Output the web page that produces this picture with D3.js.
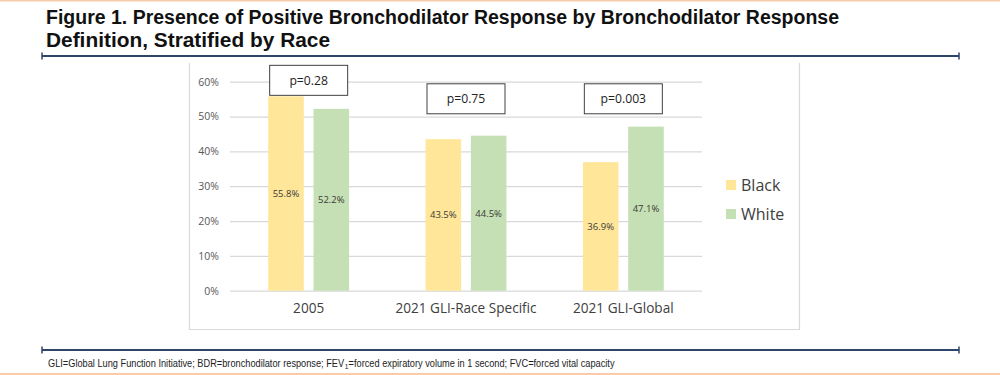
<!DOCTYPE html>
<html>
<head>
<meta charset="utf-8">
<script src="https://cdn.jsdelivr.net/npm/d3@7"></script>
<style>
  html, body { margin: 0; padding: 0; background: #fff; }
  svg { display: block; }
</style>
</head>
<body>
<div id="chart"></div>
<script>
// data
const categories = ["2005", "2021 GLI-Race Specific", "2021 GLI-Global"];
const series = ["Black", "White"];
const blackValues = [55.8, 43.5, 36.9];
const whiteValues = [52.2, 44.5, 47.1];
const pValues = ["p=0.28", "p=0.75", "p=0.003"];
const yTicks = [0, 10, 20, 30, 40, 50, 60];
const colors = { Black: "#ffe699", White: "#c5e0b4" };

const W = 1000, H = 375;
const chartFont = "'Open Sans', 'Noto Sans', sans-serif";
const pageFont = "'Liberation Sans', Arial, sans-serif";

const svg = d3.select("#chart").append("svg")
    .attr("width", W)
    .attr("height", H);

// page decorations (orange borders, navy rules)
svg.append("rect").attr("x", 0).attr("y", 0).attr("width", W).attr("height", 1.5).attr("fill", "#f8cbad");
svg.append("rect").attr("x", 0).attr("y", H - 2).attr("width", W).attr("height", 2).attr("fill", "#f8cbad");

function rule(yPos) {
    const g = svg.append("g").attr("stroke", "#2e4468");
    g.append("line").attr("x1", 42).attr("x2", 959).attr("y1", yPos).attr("y2", yPos).attr("stroke-width", 2);
    g.append("line").attr("x1", 42).attr("x2", 42).attr("y1", yPos - 3.5).attr("y2", yPos + 3.5).attr("stroke-width", 1.5);
    g.append("line").attr("x1", 959).attr("x2", 959).attr("y1", yPos - 3.5).attr("y2", yPos + 3.5).attr("stroke-width", 1.5);
}
rule(56);
rule(350);

// title
const title = svg.append("g")
    .style("font-family", pageFont)
    .style("font-weight", "bold")
    .style("font-size", "20px")
    .attr("fill", "#111");
title.append("text").attr("x", 46).attr("y", 24)
    .attr("textLength", 793).attr("lengthAdjust", "spacingAndGlyphs")
    .text("Figure 1. Presence of Positive Bronchodilator Response by Bronchodilator Response");
title.append("text").attr("x", 46).attr("y", 46.5)
    .attr("textLength", 284).attr("lengthAdjust", "spacingAndGlyphs")
    .text("Definition, Stratified by Race");

// footnote: pieces laid out one after another, then squeezed to the reference width
const footG = svg.append("g").attr("transform", "translate(48,366.5)");
const footInner = footG.append("g")
    .style("font-family", pageFont)
    .attr("fill", "#222");
const footParts = [
    { t: "GLI=Global Lung Function Initiative; BDR=bronchodilator response; FEV", size: 10.5, dy: 0 },
    { t: "1", size: 7.5, dy: 2 },
    { t: "=forced expiratory volume in 1 second; FVC=forced vital capacity", size: 10.5, dy: 0 }
];
let fx = 0;
footParts.forEach(p => {
    const node = footInner.append("text")
        .attr("x", fx).attr("y", p.dy)
        .style("font-size", p.size + "px")
        .text(p.t);
    fx += node.node().getComputedTextLength() + 0.3;
});
footInner.attr("transform", `scale(${567 / fx},1)`);

// chart frame (left, right, bottom)
svg.append("path")
    .attr("d", "M189.5,63V329.5H799.5V63")
    .attr("stroke", "#d9d9d9").attr("stroke-width", 1.2).attr("fill", "none");

// scales
const x0 = d3.scaleBand().domain(categories).range([230, 702]);
const bw = x0.bandwidth();
const x1 = d3.scaleBand().domain(series).range([bw * 0.243, bw * 0.757]).paddingInner(0.215);
const y = d3.scaleLinear().domain([0, 60]).range([290.7, 81.7]);

// y axis with gridlines
const yAxis = svg.append("g")
    .attr("transform", "translate(230,0)")
    .call(d3.axisLeft(y).tickValues(yTicks).tickSize(-472).tickPadding(11).tickFormat(d => d + "%"));
yAxis.select(".domain").remove();
yAxis.selectAll(".tick line").attr("stroke", "#d9d9d9").attr("stroke-width", 1.2);
yAxis.selectAll(".tick text")
    .style("font-family", chartFont).style("font-size", "10.5px").attr("fill", "#595959");

// x axis labels
const xAxis = svg.append("g")
    .attr("transform", "translate(0,290.7)")
    .call(d3.axisBottom(x0).tickSize(0).tickPadding(13));
xAxis.select(".domain").remove();
xAxis.selectAll(".tick text")
    .style("font-family", chartFont).style("font-size", "13.6px").attr("fill", "#404040");

// bars
const rows = categories.map((c, i) => ({
    category: c,
    values: [
        { key: "Black", value: blackValues[i] },
        { key: "White", value: whiteValues[i] }
    ]
}));

const groups = svg.append("g").selectAll("g")
    .data(rows)
    .join("g")
    .attr("transform", d => `translate(${x0(d.category)},0)`);

groups.selectAll("rect")
    .data(d => d.values)
    .join("rect")
    .attr("x", d => x1(d.key))
    .attr("width", x1.bandwidth())
    .attr("y", d => y(d.value))
    .attr("height", d => y(0) - y(d.value))
    .attr("fill", d => colors[d.key]);

groups.selectAll("text.val")
    .data(d => d.values)
    .join("text")
    .attr("class", "val")
    .attr("x", d => x1(d.key) + x1.bandwidth() / 2)
    .attr("y", d => (y(d.value) + y(0)) / 2)
    .attr("dy", "0.35em")
    .attr("text-anchor", "middle")
    .style("font-family", chartFont)
    .style("font-size", "9.5px")
    .attr("fill", "#3a3a3a")
    .text(d => d.value.toFixed(1) + "%");

// p-value boxes
const boxTop = [64.7, 59.4, 59.4]; // in % units on the y scale
const pBox = svg.append("g").selectAll("g")
    .data(categories)
    .join("g")
    .attr("transform", (d, i) => `translate(${x0(d) + bw / 2},${y(boxTop[i])})`);
pBox.append("rect")
    .attr("x", -39).attr("y", 0)
    .attr("width", 78).attr("height", 30)
    .attr("fill", "#fff").attr("stroke", "#404040").attr("stroke-width", 1);
pBox.append("text")
    .attr("x", 0).attr("y", 15).attr("dy", "0.35em")
    .attr("text-anchor", "middle")
    .style("font-family", chartFont).style("font-size", "12.2px")
    .attr("fill", "#222")
    .text((d, i) => pValues[i]);

// legend
const legend = svg.append("g").selectAll("g")
    .data(series)
    .join("g")
    .attr("transform", (d, i) => `translate(726,${185 + i * 29})`);
legend.append("rect")
    .attr("x", 0).attr("y", -5)
    .attr("width", 10).attr("height", 10)
    .attr("fill", d => colors[d]);
legend.append("text")
    .attr("x", 15).attr("y", 0).attr("dy", "0.35em")
    .style("font-family", chartFont).style("font-size", "16px")
    .attr("fill", "#404040")
    .text(d => d);
</script>
</body>
</html>
